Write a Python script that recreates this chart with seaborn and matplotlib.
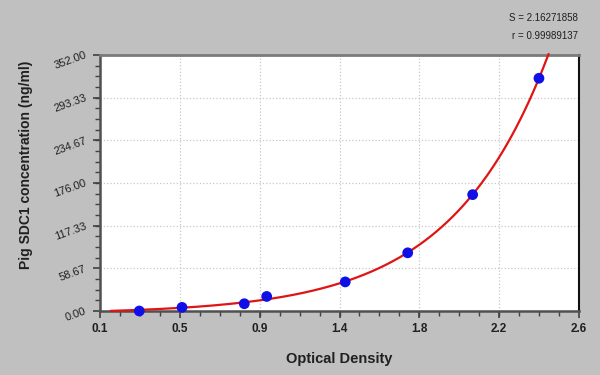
import numpy as np
import pandas as pd
import seaborn as sns
import matplotlib
matplotlib.use("Agg")
import matplotlib.pyplot as plt
from matplotlib.ticker import AutoMinorLocator

# ---- data ----
od = [0.305, 0.528, 0.853, 0.970, 1.380, 1.706, 2.045, 2.391]
conc = [0.0, 5.0, 10.0, 20.0, 40.0, 80.0, 160.0, 320.0]
x_ticks = [0.1, 0.5167, 0.9333, 1.35, 1.7667, 2.1833, 2.6]
x_tick_labels = ["0.1", "0.5", "0.9", "1.4", "1.8", "2.2", "2.6"]
y_ticks = [0.0, 58.67, 117.33, 176.0, 234.67, 293.33, 352.0]
y_tick_labels = ["0.00", "58.67", "117.33", "176.00", "234.67", "293.33", "352.00"]
stats = ["S = 2.16271858", "r = 0.99989137"]
x_label = "Optical Density"
y_label = "Pig SDC1 concentration (ng/ml)"

sns.set_theme(style="white")
plt.rcParams['font.family'] = ['Liberation Sans', 'DejaVu Sans']

fig = plt.figure(figsize=(6, 3.75), dpi=100, facecolor='#c0c0c0')
ax = fig.add_axes([100/600, 1-311/375, 479/600, 256/375])
ax.set_facecolor('white')

# fitted standard curve: y = a*exp(b*x) + c, least squares over a grid of b
pts = pd.DataFrame({'od': od, 'conc': conc})
xv = pts['od'].to_numpy()
yv = pts['conc'].to_numpy()
best = None
for b in np.linspace(0.5, 4.0, 701):
    A = np.column_stack([np.exp(b * xv), np.ones_like(xv)])
    sol, *_ = np.linalg.lstsq(A, yv, rcond=None)
    err = np.sum((A @ sol - yv) ** 2)
    if best is None or err < best[0]:
        best = (err, b, sol)
_, b_fit, (a_fit, c_fit) = best
xs = np.linspace(0.156, 2.5, 400)
fit = pd.DataFrame({'od': xs, 'conc': a_fit * np.exp(b_fit * xs) + c_fit})
fit = fit[fit['conc'] <= y_ticks[-1] * 1.012]
sns.lineplot(data=fit, x='od', y='conc', color='#e01414', lw=1.6, ax=ax,
             clip_on=False, zorder=3)
sns.scatterplot(data=pts, x='od', y='conc', color='#1010e6', s=60,
                edgecolor='none', ax=ax, zorder=4, clip_on=False)

ax.set_xlim(x_ticks[0], x_ticks[-1])
ax.set_ylim(y_ticks[0], y_ticks[-1])
ax.set_xticks(x_ticks)
ax.set_xticklabels(x_tick_labels, fontsize=8.5, fontweight='bold', color='#202020')
ax.set_yticks(y_ticks)
ax.set_yticklabels(y_tick_labels, fontsize=8, color='#202020', rotation=20,
                   ha='right', va='center', rotation_mode='anchor')
ax.xaxis.set_minor_locator(AutoMinorLocator(4))
ax.yaxis.set_minor_locator(AutoMinorLocator(4))
ax.tick_params(which='major', direction='out', length=5, width=1.2, color='#404040',
               bottom=True, left=True)
ax.tick_params(axis='x', which='major', pad=4)
ax.tick_params(axis='y', which='major', pad=5)
ax.tick_params(which='minor', direction='out', length=3.5, width=1.0, color='#404040',
               bottom=True, left=True)
ax.grid(True, which='major', color='#c8c8c8', linestyle=':', linewidth=0.9)
ax.set_axisbelow(True)

for side, col, lw in [('left', '#505050', 1.8), ('bottom', '#505050', 1.8),
                      ('top', '#7a7a7a', 2.0), ('right', '#101010', 1.5)]:
    ax.spines[side].set_visible(True)
    ax.spines[side].set_color(col)
    ax.spines[side].set_linewidth(lw)

ax.set_xlabel(x_label, fontsize=10.5, fontweight='bold', color='#202020', labelpad=12)
ax.set_ylabel(y_label, fontsize=10, fontweight='bold', color='#202020')
ax.yaxis.set_label_coords((33 - 100) / 479, (311 - 165) / 256)

fig.text(578/600, 1-18/375, stats[0], ha='right', va='center', fontsize=7, color='#202020')
fig.text(578/600, 1-36/375, stats[1], ha='right', va='center', fontsize=7, color='#202020')

fig.savefig('out.png', dpi=100, facecolor=fig.get_facecolor())
